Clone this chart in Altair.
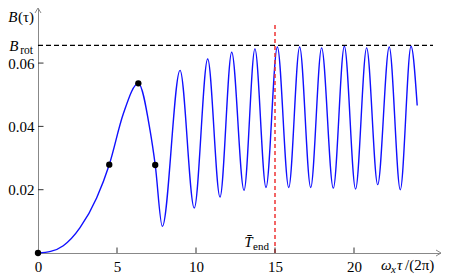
import altair as alt
import pandas as pd

# ---- data ----
tau = [0, 0.8, 1.6, 2.66, 3.71, 4.51, 5.4, 6.35, 7.09, 7.42, 7.87, 8.99, 9.89,
       10.74, 11.52, 12.26, 13.04, 13.73, 14.43, 15.15, 15.87, 16.56, 17.26,
       17.95, 18.69, 19.39, 20.1, 20.8, 21.5, 22.23, 22.93, 23.61, 24.0]
B = [0, 0.0005, 0.0023, 0.008, 0.0174, 0.0279, 0.044, 0.0536, 0.0388, 0.0278,
     0.0084, 0.0577, 0.0142, 0.0613, 0.0177, 0.0634, 0.0198, 0.0645, 0.0207,
     0.0651, 0.0207, 0.0651, 0.0207, 0.0648, 0.0205, 0.0653, 0.0202, 0.0648,
     0.0216, 0.0651, 0.0200, 0.0653, 0.0466]
dot_tau = [0, 4.51, 6.35, 7.42]
dot_B = [0, 0.0279, 0.0536, 0.0278]
x_tick_values = [0, 5, 10, 15, 20]
x_inner_ticks = [5, 10, 15, 20]
y_tick_values = [0.02, 0.04, 0.06]
B_rot = 0.0656
B_rot_end = 25.0
T_end = 15
T_end_top = 0.0721

W, H = 403, 245
X_MAX = W / 15.8
Y_MAX = 0.0774
FONT = "Liberation Serif"
AXIS_GREY = "#888888"

xs = alt.Scale(domain=[0, X_MAX], nice=False, zero=False)
ys = alt.Scale(domain=[0, Y_MAX], nice=False, zero=False)

curve_df = pd.DataFrame({"tau": tau, "B": B})
dots_df = pd.DataFrame({"tau": dot_tau, "B": dot_B})
one = pd.DataFrame({"k": [0]})

x_axis = alt.Axis(values=x_tick_values, format="d", ticks=False, grid=False,
                  domainColor=AXIS_GREY, domainWidth=1, labelFont=FONT,
                  labelFontSize=15, labelColor="black", labelPadding=6,
                  labelFlush=False, title=None)
y_axis = alt.Axis(values=y_tick_values, format=".2f", ticks=False, grid=False,
                  domainColor=AXIS_GREY, domainWidth=1, labelFont=FONT,
                  labelFontSize=15, labelColor="black", labelPadding=4,
                  labelFlush=False, title=None)


def X(field=None, datum=None):
    if field is not None:
        return alt.X(field, type="quantitative", scale=xs, axis=x_axis)
    return alt.X(datum=datum, type="quantitative", scale=xs, axis=x_axis)


def Y(field=None, datum=None):
    if field is not None:
        return alt.Y(field, type="quantitative", scale=ys, axis=y_axis)
    return alt.Y(datum=datum, type="quantitative", scale=ys, axis=y_axis)


curve = alt.Chart(curve_df).mark_line(
    color="#1010ff", strokeWidth=1.4, interpolate="monotone"
).encode(x=X("tau"), y=Y("B"))

rot_line = alt.Chart(one).mark_rule(
    color="black", strokeWidth=1.2, strokeDash=[5, 3]
).encode(x=X(datum=0), x2=alt.X2(datum=B_rot_end), y=Y(datum=B_rot))

tend_line = alt.Chart(one).mark_rule(
    color="#ee3333", strokeWidth=1.5, strokeDash=[4, 3]
).encode(x=X(datum=T_end), y=Y(datum=0), y2=alt.Y2(datum=T_end_top))

dots = alt.Chart(dots_df).mark_circle(color="black", size=40, opacity=1).encode(
    x=X("tau"), y=Y("B")
)

xt = alt.Chart(pd.DataFrame({"t": x_inner_ticks})).mark_rule(
    color="#333333", strokeWidth=1
).encode(x=X("t"), y=alt.value(H), y2=alt.value(H - 5.5))

yt = alt.Chart(pd.DataFrame({"t": y_tick_values})).mark_rule(
    color="#333333", strokeWidth=1
).encode(y=Y("t"), x=alt.value(0), x2=alt.value(5.5))


def txt(text, x, y, dx, dy, size=15, italic=False, align="right"):
    return alt.Chart(one).mark_text(
        text=text, font=FONT, fontSize=size,
        fontStyle="italic" if italic else "normal",
        align=align, baseline="alphabetic", dx=dx, dy=dy, color="black",
    ).encode(x=X(datum=x), y=Y(datum=y))


texts = [
    # B(tau) axis label
    txt("(τ)", 0, 0.0740, -4, 3, 15),
    txt("B", 0, 0.0740, -20.5, 3, 15, italic=True),
    # B_rot label
    txt("rot", 0, B_rot, -5, 9, 11.5),
    txt("B", 0, B_rot, -19.5, 6, 15, italic=True),
    # T_end label
    txt("end", 14.62, 0, 0, -3.5, 11),
    txt("T\u0304", 14.62, 0, -16.5, -6.5, 15, italic=True),
    # x-axis label
    txt("ω", 21.71, 0, 0, 16.7, 15, italic=True, align="left"),
    txt("x", 21.71, 0, 10, 19.5, 11, italic=True, align="left"),
    txt("τ", 21.71, 0, 16, 16.7, 15, italic=True, align="left"),
    txt("/(2π)", 21.71, 0, 24, 16.7, 15, align="left"),
]


# arrow heads at the ends of the two axis lines (decoration, pixel space)
def arrow_stroke(x1, y1, x2, y2):
    return alt.Chart(one).mark_rule(color=AXIS_GREY, strokeWidth=1).encode(
        x=alt.value(x1), y=alt.value(y1), x2=alt.value(x2), y2=alt.value(y2)
    )


arrows = [
    arrow_stroke(W, H, W - 5, H - 3),
    arrow_stroke(W, H, W - 5, H + 3),
    arrow_stroke(0, 0, -3, 5),
    arrow_stroke(0, 0, 3, 5),
]

chart = alt.layer(
    curve, rot_line, tend_line, dots, xt, yt, *texts, *arrows
).properties(
    width=W, height=H,
    padding={"left": 30, "top": 0, "right": 0, "bottom": 22},
    autosize=alt.AutoSizeParams(type="none"),
).configure_view(
    stroke=None
).configure_axis(
    labelFont=FONT, labelFontSize=15, labelColor="black"
)

chart.save("out.html", embed_options={"renderer": "svg", "actions": False})
